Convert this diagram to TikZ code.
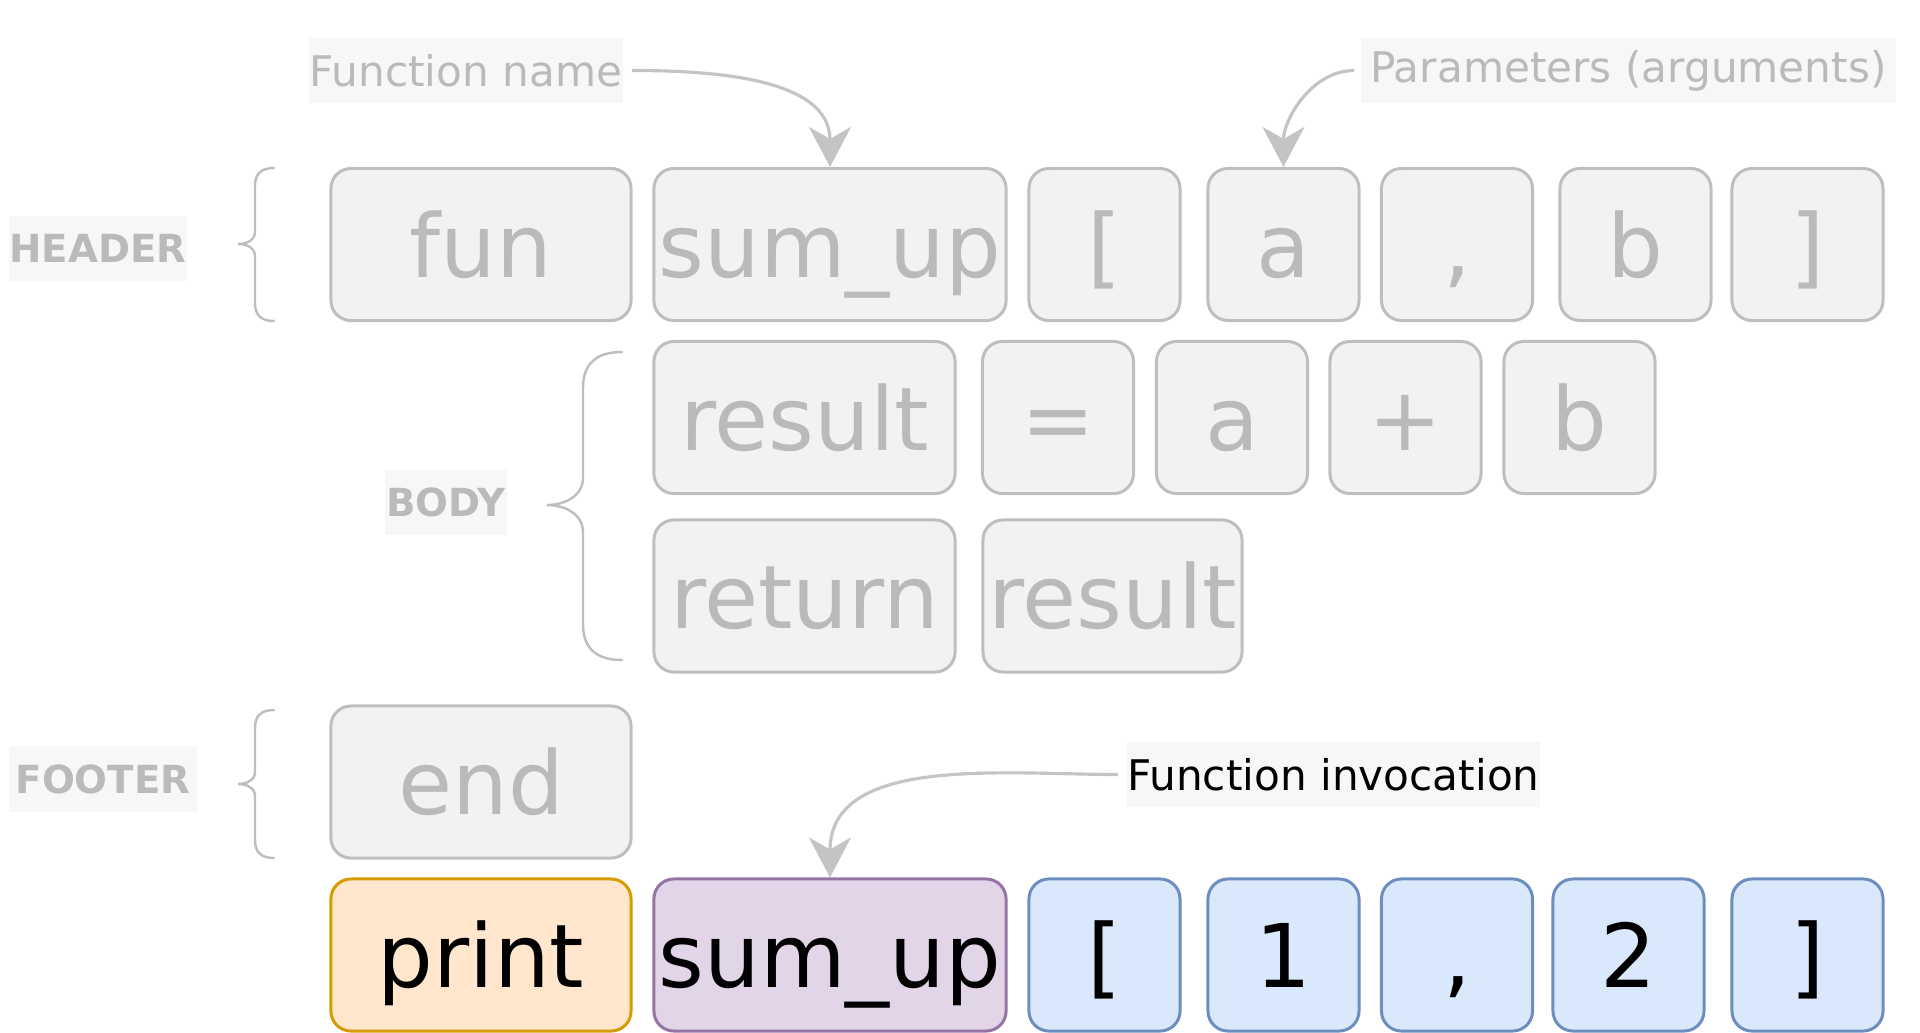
\documentclass[tikz,border=0pt]{standalone}
\usepackage{fontspec}
\setmainfont{DejaVu Sans}
\usepackage{tikz}
\usetikzlibrary{arrows.meta,positioning}
\usepackage{xcolor}
\definecolor{tkfill}{RGB}{242,242,242}
\definecolor{tkline}{RGB}{190,190,190}
\definecolor{tktext}{RGB}{186,186,186}
\definecolor{notefill}{RGB}{246,248,247}
\definecolor{arrgray}{RGB}{196,196,196}
\definecolor{prfill}{RGB}{255,230,204}
\definecolor{prline}{RGB}{215,155,0}
\definecolor{sufill}{RGB}{225,213,231}
\definecolor{suline}{RGB}{150,115,166}
\definecolor{argfill}{RGB}{218,232,252}
\definecolor{argline}{RGB}{108,142,191}
\newcommand{\tokfont}{\fontsize{25}{30}\selectfont}
\tikzstyle{token} = [rectangle, rounded corners=0.2cm, minimum width=1.51cm, minimum height=1.52cm, inner sep=0pt, text height=22pt, text depth=3.5pt, draw=tkline, fill=tkfill, line width=0.85pt, text=tktext, font=\tokfont]
\tikzstyle{notebox} = [rectangle, fill=notefill, minimum height=0.65cm, inner xsep=0pt, text=tktext, font=\fontsize{12}{14}\selectfont]
\tikzstyle{sectbox} = [rectangle, fill=notefill, minimum height=0.65cm, inner xsep=0pt, text=tktext, font=\fontsize{11}{13}\selectfont\bfseries]
\tikzstyle{arrow} = [line width=0.9pt, ->, >={Stealth[length=0.4cm,width=0.42cm,inset=0.12cm]}, color=arrgray]
\tikzstyle{sbrace} = [line width=0.7pt, color=tkline, line cap=round]

\begin{document}
\begin{tikzpicture}[x=0.01cm, y=-0.01cm]
    \useasboundingbox (0,0) rectangle (1920,1033);

    % Header
    \node[sectbox, minimum width=1.78cm] (header) at (98,248.5) {HEADER};
    \draw[sbrace] (274,168) .. controls (261,168) and (255,174) .. (255,186) -- (255,232)
        .. controls (255,240) and (247,244) .. (238,244) .. controls (247,244) and (255,248) .. (255,256)
        -- (255,303) .. controls (255,315) and (261,321) .. (274,321);
    \node[token, minimum width=3.00cm] (fun) at (481,244.5) {fun};
    \node[token, minimum width=3.52cm] (hsum) at (830,244.5) {sum\_up};
    \node[token] (hlb) at (1104.5,244.5) {[};
    \node[token] (ha) at (1283.5,244.5) {a};
    \node[token] (hcomma) at (1457,244.5) {,};
    \node[token] (hb) at (1635.5,244.5) {b};
    \node[token] (hrb) at (1807.5,244.5) {]};

    % Body
    \node[sectbox, minimum width=1.22cm] (body) at (446,502.5) {BODY};
    \draw[sbrace] (622,352) .. controls (597,352) and (583,363) .. (583,388) -- (583,478)
        .. controls (583,495) and (566,505) .. (547,505) .. controls (566,505) and (583,515) .. (583,532)
        -- (583,624) .. controls (583,649) and (597,660) .. (622,660);
    \node[token, minimum width=3.01cm] (bres) at (804.5,417.5) {result};
    \node[token] (beq) at (1058,417.5) {=};
    \node[token] (ba) at (1232,417.5) {a};
    \node[token] (bplus) at (1405.5,417.5) {+};
    \node[token] (bb) at (1579.5,417.5) {b};
    \node[token, minimum width=3.01cm] (bret) at (804.5,596) {return};
    \node[token, minimum width=2.59cm] (bres2) at (1112.5,596) {result};

    % Footer
    \node[sectbox, minimum width=1.88cm] (footer) at (103,779) {FOOTER};
    \draw[sbrace] (274,710) .. controls (261,710) and (255,716) .. (255,728) -- (255,772)
        .. controls (255,780) and (247,784) .. (238,784) .. controls (247,784) and (255,788) .. (255,796)
        -- (255,840) .. controls (255,852) and (261,858) .. (274,858);
    \node[token, minimum width=3.00cm] (end) at (481,782) {end};

    % Invocation
    \node[token, minimum width=3.00cm, draw=prline, fill=prfill, text=black] (cprint) at (481,955) {print};
    \node[token, minimum width=3.52cm, draw=suline, fill=sufill, text=black] (csum) at (830,955) {sum\_up};
    \node[token, draw=argline, fill=argfill, text=black] (clb) at (1104.5,955) {[};
    \node[token, draw=argline, fill=argfill, text=black] (cone) at (1283.5,955) {1};
    \node[token, draw=argline, fill=argfill, text=black] (ccomma) at (1457,955) {,};
    \node[token, draw=argline, fill=argfill, text=black] (ctwo) at (1628.5,955) {2};
    \node[token, draw=argline, fill=argfill, text=black] (crb) at (1807.5,955) {]};

    % Notes
    \node[notebox, minimum width=3.14cm] (fname) at (466,70.5) {Function name};
    \node[notebox, minimum width=5.35cm] (params) at (1628.5,70.5) {Parameters (arguments)};
    \node[notebox, minimum width=4.13cm, text=black] (invoc) at (1333.5,774.5) {Function invocation};

    % Arrows
    \draw[arrow, shorten <=0.08cm] (fname.east) to[out=0, in=90] (hsum.north);
    \draw[arrow, shorten <=0.06cm] (params.west) to[out=180, in=90] (ha.north);
    \draw[arrow, shorten <=0.08cm] (invoc.west) to[out=180, in=90] (csum.north);
\end{tikzpicture}
\end{document}
